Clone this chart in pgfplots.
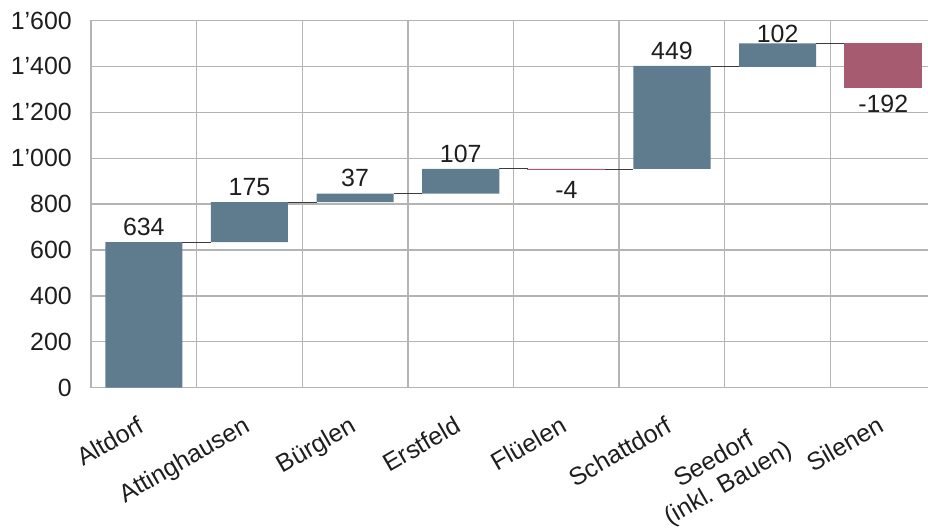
\documentclass[border=0pt]{standalone}
\usepackage{pgfplots}
\pgfplotsset{compat=1.18}
\usepackage{fontspec}
\setmainfont{Liberation Sans}
\definecolor{barblue}{RGB}{95,124,142}
\definecolor{barred}{RGB}{166,91,112}
\definecolor{gridgray}{RGB}{180,180,180}
\definecolor{txt}{RGB}{30,30,30}
\definecolor{conn}{RGB}{60,60,60}
\begin{document}
\begin{tikzpicture}
\begin{axis}[
  name=ax,
  scale only axis,
  width=837bp, height=367.2bp,
  xmin=-0.5, xmax=7.424,
  ymin=0, ymax=1600,
  axis x line*=bottom, axis y line*=left,
  axis line style={-, draw=gridgray, line width=1.3bp},
  xtick={0,...,7},
  xticklabels={Altdorf,Attinghausen,Bürglen,Erstfeld,Flüelen,Schattdorf,{Seedorf\\(inkl. Bauen)},Silenen},
  minor xtick={0.5,1.5,...,6.5},
  xminorgrids=true, ymajorgrids=true,
  grid style={draw=gridgray, line width=1.3bp},
  minor grid style={draw=gridgray, line width=1.3bp},
  major tick length=0pt, minor tick length=0pt,
  ytick={0,200,...,1600},
  yticklabels={0,200,400,600,800,1'000,1'200,1'400,1'600},
  tick label style={font=\fontsize{25}{28}\selectfont, text=txt},
  yticklabel style={anchor=east, inner sep=0pt, xshift=-19bp},
  xticklabel shift=27bp,
  xticklabel style={xshift=-7bp, rotate=30, anchor=north east, align=center, inner sep=0pt},
]
% invisible base
\addplot [ybar, bar width=0.73, bar shift=0pt, stack plots=y, fill=none, draw=none]
  coordinates {(0,0) (1,634) (2,809) (3,846) (5,953) (6,1398)};
% increases
\addplot [ybar, bar width=0.73, bar shift=0pt, stack plots=y, fill=barblue, draw=none]
  coordinates {(0,634) (1,175) (2,37) (3,107) (5,449) (6,102)};
% connectors
\addplot [stack plots=false, sharp plot, no marks, draw=conn, line width=1bp] coordinates {(0.365,634) (0.635,634)};
\addplot [stack plots=false, sharp plot, no marks, draw=conn, line width=1bp] coordinates {(1.365,809) (1.635,809)};
\addplot [stack plots=false, sharp plot, no marks, draw=conn, line width=1bp] coordinates {(2.365,846) (2.635,846)};
\addplot [stack plots=false, sharp plot, no marks, draw=conn, line width=1bp] coordinates {(3.365,953) (3.635,953)};
\addplot [stack plots=false, sharp plot, no marks, draw=conn, line width=1bp] coordinates {(4.365,949) (4.635,949)};
\addplot [stack plots=false, sharp plot, no marks, draw=conn, line width=1bp] coordinates {(5.365,1398) (5.635,1398)};
\addplot [stack plots=false, sharp plot, no marks, draw=conn, line width=1bp] coordinates {(6.365,1500) (6.635,1500)};
% value labels
\addplot [stack plots=false, only marks, mark=none, nodes near coords, point meta=explicit symbolic,
  nodes near coords style={anchor=south, inner sep=0pt, yshift=6.5bp, font=\fontsize{25}{28}\selectfont, text=txt}]
  coordinates {(0,634) [634] (1,809) [175] (2,846) [37] (3,953) [107] (5,1398) [449]};
\addplot [stack plots=false, only marks, mark=none, nodes near coords, point meta=explicit symbolic,
  nodes near coords style={anchor=south, inner sep=0pt, yshift=1bp, font=\fontsize{25}{28}\selectfont, text=txt}]
  coordinates {(6,1500) [102]};
\addplot [stack plots=false, only marks, mark=none, nodes near coords, point meta=explicit symbolic,
  nodes near coords style={anchor=north, inner sep=0pt, yshift=-11bp, font=\fontsize{25}{28}\selectfont, text=txt}]
  coordinates {(4,949) [-4]};
\addplot [stack plots=false, only marks, mark=none, nodes near coords, point meta=explicit symbolic,
  nodes near coords style={anchor=north, inner sep=0pt, yshift=-7.5bp, font=\fontsize{25}{28}\selectfont, text=txt}]
  coordinates {(7,1308) [-192]};
\end{axis}
% decreases, in an overlaid axis with the same geometry
\begin{axis}[
  at={(ax.south west)}, anchor=south west,
  scale only axis,
  width=837bp, height=367.2bp,
  xmin=-0.5, xmax=7.424,
  ymin=0, ymax=1600,
  hide axis,
]
\addplot [ybar, bar width=0.73, bar shift=0pt, stack plots=y, fill=none, draw=none]
  coordinates {(4,949) (7,1308)};
\addplot [ybar, bar width=0.73, bar shift=0pt, stack plots=y, fill=barred, draw=barred, line width=0.9bp]
  coordinates {(4,4) (7,192)};
\end{axis}
\pgfresetboundingbox
\path[use as bounding box] ([shift={(-91bp,-142.3bp)}]ax.south west) rectangle ([shift={(0bp,20.5bp)}]ax.north east);
\end{tikzpicture}
\end{document}
